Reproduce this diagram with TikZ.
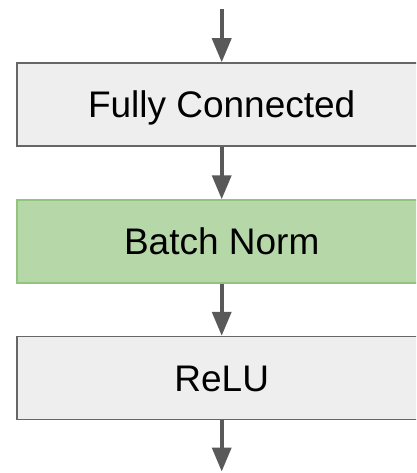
\documentclass[tikz,border=0pt]{standalone}
\usepackage{fontspec}
\setmainfont{Liberation Sans}
\usetikzlibrary{arrows.meta}
\definecolor{layerfill}{HTML}{EEEEEE}
\definecolor{layerline}{HTML}{666666}
\definecolor{normfill}{HTML}{B6D7A8}
\definecolor{normline}{HTML}{93C47D}
\definecolor{flow}{HTML}{595959}
\tikzset{
  layer/.style={draw=layerline, fill=layerfill, line width=1.5pt,
    minimum width=409pt, minimum height=83pt, inner sep=0pt,
    font=\fontsize{37}{44}\selectfont, text height=26.5pt, text depth=0pt},
  normlayer/.style={layer, draw=normline, fill=normfill},
  flowarrow/.style={draw=flow, line width=3.7pt,
    -{Triangle[length=24pt,width=19pt]}}
}
\begin{document}
\begin{tikzpicture}[x=1pt,y=-1pt]
  \useasboundingbox (0,0) rectangle (416,473);
  \clip (0,0) rectangle (416,473);
  \fill[white] (0,0) rectangle (416,473);

  \node[layer] (fc) at (221.7,104.5) {Fully Connected};
  \node[normlayer] (bn) at (221.7,241.5) {Batch Norm};
  \node[layer] (relu) at (221.7,378) {ReLU};

  \coordinate (in) at (221.7,9.5);
  \coordinate (out) at (221.7,471.5);

  \draw[flowarrow] (in) -- (fc.north);
  \draw[flowarrow] (fc.south) -- (bn.north);
  \draw[flowarrow] (bn.south) -- (relu.north);
  \draw[flowarrow] (relu.south) -- (out);
\end{tikzpicture}
\end{document}
